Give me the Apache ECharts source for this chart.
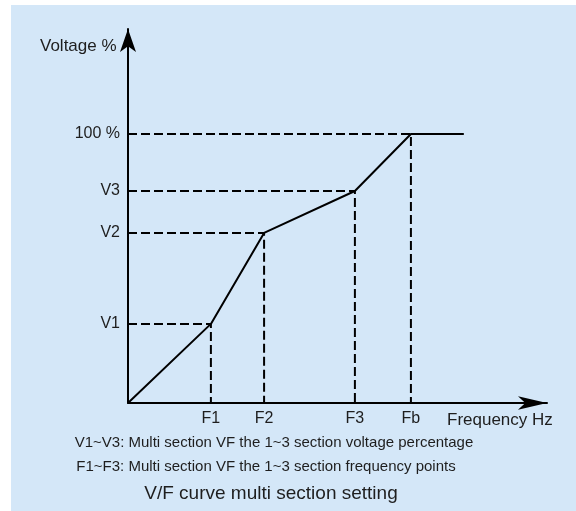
<!DOCTYPE html>
<html>
<head>
<meta charset="utf-8">
<script src="https://cdn.jsdelivr.net/npm/echarts@6/dist/echarts.min.js"></script>
<style>
  html, body { margin: 0; padding: 0; background: #ffffff; }
  #wrap { position: relative; width: 576px; height: 511px; overflow: hidden; }
  #panel { position: absolute; left: 11px; top: 5px; right: 0; bottom: 0; background: #d4e7f8; }
  #chart { position: absolute; left: 0; top: 0; width: 576px; height: 511px; }
</style>
</head>
<body>
<div id="wrap">
  <div id="panel"></div>
  <div id="chart"></div>
</div>
<script>
// Frequency points (relative units, Fb = 100)
const freqLabels = ['F1', 'F2', 'F3', 'Fb'];
const freqValues = [29.3, 48.1, 80.2, 100];
// Voltage points (percent)
const voltLabels = ['V1', 'V2', 'V3', '100 %'];
const voltValues = [29.4, 63.2, 78.8, 100];
// V/F curve
const curveX = [0, 29.3, 48.1, 80.2, 100, 118.7];
const curveY = [0, 29.4, 63.2, 78.8, 100, 100];

const noteLines = [
  'V1~V3: Multi section VF the 1~3 section voltage percentage',
  'F1~F3: Multi section VF the 1~3 section frequency points'
];
const titleText = 'V/F curve multi section setting';
const yName = 'Voltage %';
const xName = 'Frequency Hz';

const FONT = 'Liberation Sans, Arial, sans-serif';
const TXT = '#1e1e1e';

const chart = echarts.init(document.getElementById('chart'), null, { renderer: 'canvas' });

const guideSeries = freqValues.map((f, i) => ({
  type: 'line',
  symbol: 'none',
  silent: true,
  z: 2,
  lineStyle: { color: '#000', width: 2, type: [9, 4] },
  data: [[0, voltValues[i]], [f, voltValues[i]], [f, 0]]
}));

const option = {
  backgroundColor: 'transparent',
  animation: false,
  grid: { left: 128, right: 29, top: 29, bottom: 108 },
  xAxis: {
    type: 'value',
    min: 0,
    max: 148.1,
    splitLine: { show: false },
    axisTick: { show: false },
    axisLine: {
      show: true,
      symbol: ['none', 'arrow'],
      symbolSize: [10, 29],
      lineStyle: { color: '#000', width: 2 }
    },
    axisLabel: {
      customValues: freqValues,
      margin: 8,
      color: TXT,
      fontSize: 16,
      fontFamily: FONT,
      formatter: v => {
        const i = freqValues.indexOf(v);
        return i >= 0 ? freqLabels[i] : '';
      }
    }
  },
  yAxis: {
    type: 'value',
    min: 0,
    max: 139,
    splitLine: { show: false },
    axisTick: { show: false },
    axisLine: {
      show: true,
      symbol: ['none', 'arrow'],
      symbolSize: [12, 23],
      lineStyle: { color: '#000', width: 2 }
    },
    axisLabel: {
      customValues: voltValues,
      margin: 8,
      color: TXT,
      fontSize: 16,
      fontFamily: FONT,
      formatter: v => {
        const i = voltValues.indexOf(v);
        return i >= 0 ? voltLabels[i] : '';
      }
    }
  },
  graphic: [
    { type: 'text', x: 40, y: 46, style: { text: yName, fill: TXT, font: '17px ' + FONT, verticalAlign: 'middle' } },
    { type: 'text', x: 447, y: 420, style: { text: xName, fill: TXT, font: '17px ' + FONT, verticalAlign: 'middle' } },
    { type: 'text', x: 274, y: 443, style: { text: noteLines[0], fill: TXT, font: '15px ' + FONT, align: 'center', verticalAlign: 'middle' } },
    { type: 'text', x: 266, y: 467, style: { text: noteLines[1], fill: TXT, font: '15px ' + FONT, align: 'center', verticalAlign: 'middle' } },
    { type: 'text', x: 271, y: 494, style: { text: titleText, fill: TXT, font: '19px ' + FONT, align: 'center', verticalAlign: 'middle' } }
  ],
  series: guideSeries.concat([{
    type: 'line',
    symbol: 'none',
    silent: true,
    z: 3,
    lineStyle: { color: '#000', width: 2 },
    data: curveX.map((x, i) => [x, curveY[i]])
  }])
};

chart.setOption(option);
</script>
</body>
</html>
